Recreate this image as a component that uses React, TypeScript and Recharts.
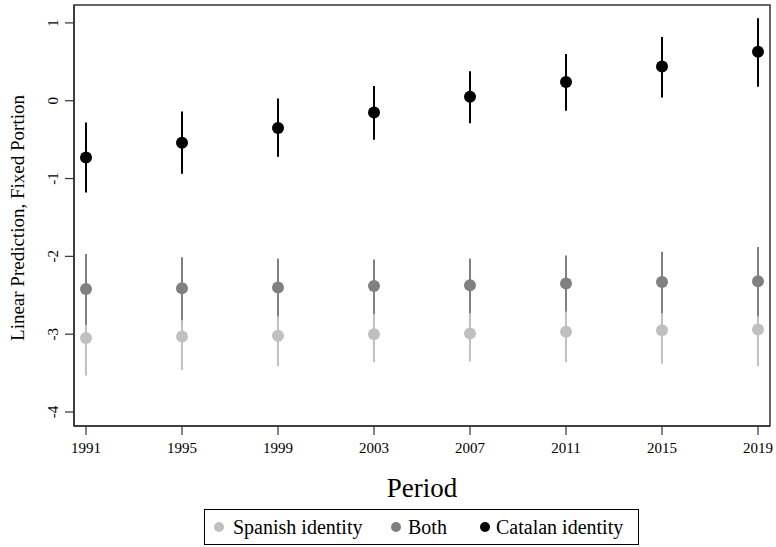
import React from 'react';
import { ComposedChart, Scatter, ErrorBar, XAxis, YAxis, ReferenceArea } from 'recharts';

const periods = [1991, 1995, 1999, 2003, 2007, 2011, 2015, 2019];
const yTicks = [-4, -3, -2, -1, 0, 1];

// point estimates and 95% CI bounds
const spanishEst = [-3.05, -3.03, -3.02, -3.0, -2.99, -2.97, -2.95, -2.94];
const spanishLow = [-3.53, -3.46, -3.41, -3.36, -3.35, -3.36, -3.38, -3.41];
const spanishHigh = [-2.57, -2.6, -2.63, -2.64, -2.63, -2.58, -2.52, -2.47];

const bothEst = [-2.42, -2.41, -2.4, -2.38, -2.37, -2.35, -2.33, -2.32];
const bothLow = [-2.88, -2.82, -2.77, -2.74, -2.73, -2.71, -2.73, -2.77];
const bothHigh = [-1.97, -2.01, -2.03, -2.04, -2.03, -1.99, -1.94, -1.88];

const catalanEst = [-0.73, -0.54, -0.35, -0.15, 0.05, 0.24, 0.44, 0.63];
const catalanLow = [-1.18, -0.94, -0.72, -0.5, -0.29, -0.13, 0.04, 0.18];
const catalanHigh = [-0.28, -0.14, 0.03, 0.19, 0.38, 0.6, 0.82, 1.06];

const build = (est: number[], lo: number[], hi: number[]) =>
  periods.map((p, i) => ({ x: p, y: est[i], err: [est[i] - lo[i], hi[i] - est[i]] }));

const series = [
  { name: 'Spanish identity', color: '#c0c0c0', data: build(spanishEst, spanishLow, spanishHigh) },
  { name: 'Both', color: '#808080', data: build(bothEst, bothLow, bothHigh) },
  { name: 'Catalan identity', color: '#000000', data: build(catalanEst, catalanLow, catalanHigh) },
];

const FONT = 'Liberation Serif';
const X_MIN = 1990.5;
const X_MAX = 2019.5;
const Y_MIN = -4.18;
const Y_MAX = 1.23;

// legend item offsets inside the box (dot centre, text start)
const legendSlots = [
  { dot: 14, text: 28 },
  { dot: 191, text: 203 },
  { dot: 280, text: 291 },
];

const YTick = (props: any) => {
  const { y, payload } = props;
  const x = 58.5;
  return (
    <text x={x} y={y} transform={`rotate(-90, ${x}, ${y})`} textAnchor="middle" fontFamily={FONT} fontSize={15} fill="#000">
      {payload.value}
    </text>
  );
};

const XTick = (props: any) => {
  const { x, payload } = props;
  return (
    <text x={x} y={453} textAnchor="middle" fontFamily={FONT} fontSize={15} fill="#000">
      {payload.value}
    </text>
  );
};

const LegendBox = () => (
  <div
    style={{
      position: 'absolute',
      left: 204,
      top: 509,
      width: 435,
      height: 36,
      boxSizing: 'border-box',
      border: '1px solid #000',
      fontFamily: FONT,
      fontSize: 20,
      background: '#fff',
    }}
  >
    {series.map((s, i) => (
      <React.Fragment key={s.name}>
        <svg width={12} height={12} style={{ position: 'absolute', left: legendSlots[i].dot - 6, top: 11 }}>
          <circle cx={6} cy={6} r={5} fill={s.color} />
        </svg>
        <span style={{ position: 'absolute', left: legendSlots[i].text, top: 5, lineHeight: '24px', whiteSpace: 'nowrap' }}>
          {s.name}
        </span>
      </React.Fragment>
    ))}
  </div>
);

export default function App() {
  return (
    <div style={{ position: 'absolute', left: 0, top: 0, width: 776, height: 547, background: '#fff' }}>
      <ComposedChart width={776} height={547} margin={{ top: 5, right: 6, left: 0, bottom: 0 }}>
        <XAxis
          type="number"
          dataKey="x"
          domain={[X_MIN, X_MAX]}
          ticks={periods}
          allowDataOverflow
          tickSize={9}
          height={121}
          axisLine={{ stroke: '#333', strokeWidth: 1.5 }}
          tickLine={{ stroke: '#333', strokeWidth: 1.2 }}
          tick={<XTick />}
          label={{
            content: ({ viewBox }: any) => (
              <text x={viewBox.x + viewBox.width / 2} y={497} textAnchor="middle" fontFamily={FONT} fontSize={27} fill="#000">
                Period
              </text>
            ),
          }}
        />
        <YAxis
          type="number"
          dataKey="y"
          domain={[Y_MIN, Y_MAX]}
          ticks={yTicks}
          allowDataOverflow
          width={74}
          tickSize={9}
          axisLine={{ stroke: '#333', strokeWidth: 1.5 }}
          tickLine={{ stroke: '#333', strokeWidth: 1.2 }}
          tick={<YTick />}
          label={{
            content: () => {
              const cx = 24;
              const cy = 218;
              return (
                <text x={cx} y={cy} transform={`rotate(-90, ${cx}, ${cy})`} textAnchor="middle" fontFamily={FONT} fontSize={19} fill="#000">
                  Linear Prediction, Fixed Portion
                </text>
              );
            },
          }}
        />
        <ReferenceArea x1={X_MIN} x2={X_MAX} y1={Y_MIN} y2={Y_MAX} fill="none" stroke="#333" strokeWidth={1.5} />
        {series.map((s) => (
          <Scatter
            key={s.name}
            name={s.name}
            data={s.data}
            fill={s.color}
            isAnimationActive={false}
            shape={(p: any) => <circle cx={p.cx} cy={p.cy} r={6} fill={s.color} />}
          >
            <ErrorBar dataKey="err" direction="y" width={0} stroke={s.color} strokeWidth={2} />
          </Scatter>
        ))}
      </ComposedChart>
      <LegendBox />
    </div>
  );
}
